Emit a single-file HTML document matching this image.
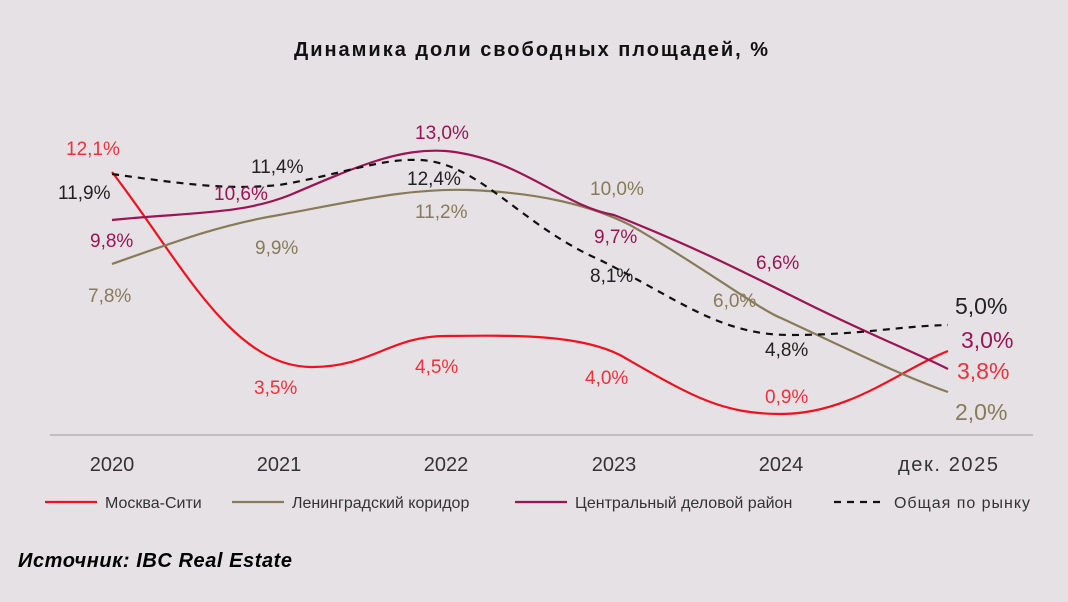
<!DOCTYPE html>
<html><head><meta charset="utf-8"><style>
body{margin:0;background:#e6e1e4;}
svg{display:block;font-family:"Liberation Sans","DejaVu Sans",sans-serif;}
</style></head><body>
<svg width="1068" height="602" viewBox="0 0 1068 602">
<rect width="1068" height="602" fill="#e6e1e4"/>
<text x="531" y="56" text-anchor="middle" font-size="20" font-weight="bold" fill="#111" textLength="474">Динамика доли свободных площадей, %</text>
<line x1="50" y1="435" x2="1033" y2="435" stroke="#aaa" stroke-width="1.2"/>
<g font-size="20" fill="#333" text-anchor="middle">
<text x="112" y="471">2020</text><text x="279" y="471">2021</text><text x="446" y="471">2022</text>
<text x="614" y="471">2023</text><text x="781" y="471">2024</text><text x="948" y="471" textLength="100">дек. 2025</text>
</g>
<g fill="none" stroke-width="2.2">
<path d="M112,172 C180,260 230,365 310,367 C370,368 390,336 446,336 C520,335 580,335 620,355 C690,395 720,414 781,414 C850,414 900,370 948,351" stroke="#f0101e"/>
<path d="M112,264 C180,240 220,225 279,215 C360,200 410,188 470,190 C540,193 590,205 630,225 C700,265 760,310 781,318 C850,350 900,375 948,392" stroke="#877b5a"/>
<path d="M112,220 C190,212 240,215 290,195 C360,165 400,148 446,151 C520,158 560,205 614,215 C690,245 740,270 800,300 C870,335 910,350 948,369" stroke="#9c1454"/>
<path d="M112,174 C190,185 230,190 279,185 C340,175 380,158 420,160 C480,163 520,225 600,260 C680,300 720,335 790,335 C860,335 900,326 948,325" stroke="#111" stroke-dasharray="7,6"/>
</g>
<g font-size="19">
<text x="66" y="155" fill="#f0303a">12,1%</text>
<text x="58" y="199" fill="#222">11,9%</text>
<text x="90" y="247" fill="#9c1454">9,8%</text>
<text x="88" y="302" fill="#877b5a">7,8%</text>
<text x="251" y="173" fill="#222">11,4%</text>
<text x="214" y="200" fill="#9c1454">10,6%</text>
<text x="255" y="254" fill="#877b5a">9,9%</text>
<text x="254" y="394" fill="#f0303a">3,5%</text>
<text x="415" y="139" fill="#9c1454">13,0%</text>
<text x="407" y="185" fill="#222">12,4%</text>
<text x="415" y="218" fill="#877b5a">11,2%</text>
<text x="415" y="373" fill="#f0303a">4,5%</text>
<text x="590" y="195" fill="#877b5a">10,0%</text>
<text x="594" y="243" fill="#9c1454">9,7%</text>
<text x="590" y="282" fill="#222">8,1%</text>
<text x="585" y="384" fill="#f0303a">4,0%</text>
<text x="756" y="269" fill="#9c1454">6,6%</text>
<text x="713" y="307" fill="#877b5a">6,0%</text>
<text x="765" y="356" fill="#222">4,8%</text>
<text x="765" y="403" fill="#f0303a">0,9%</text>
</g>
<g font-size="23">
<text x="955" y="314" fill="#222">5,0%</text>
<text x="961" y="348" fill="#9c1454">3,0%</text>
<text x="957" y="379" fill="#f0303a">3,8%</text>
<text x="955" y="420" fill="#877b5a">2,0%</text>
</g>
<g font-size="16" fill="#333">
<line x1="45" y1="502" x2="97" y2="502" stroke="#f0101e" stroke-width="2.2"/>
<text x="105" y="508">Москва-Сити</text>
<line x1="232" y1="502" x2="284" y2="502" stroke="#877b5a" stroke-width="2.2"/>
<text x="292" y="508">Ленинградский коридор</text>
<line x1="515" y1="502" x2="567" y2="502" stroke="#9c1454" stroke-width="2.2"/>
<text x="575" y="508">Центральный деловой район</text>
<line x1="834" y1="502" x2="886" y2="502" stroke="#111" stroke-width="2.2" stroke-dasharray="7,6"/>
<text x="894" y="508" textLength="136">Общая по рынку</text>
</g>
<text x="18" y="567" font-size="20" font-weight="bold" font-style="italic" fill="#000" textLength="274">Источник: IBC Real Estate</text>
</svg>
</body></html>
